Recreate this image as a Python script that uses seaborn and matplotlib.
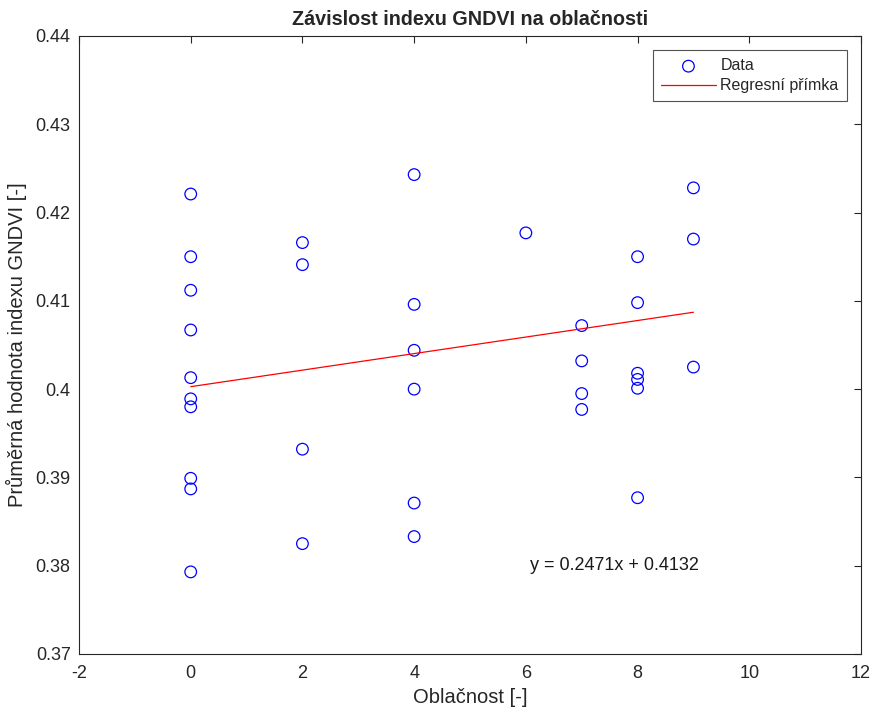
import numpy as np
import pandas as pd
import seaborn as sns
import matplotlib
matplotlib.use('Agg')
import matplotlib.pyplot as plt

# hodnoty
oblacnost = [0, 0, 0, 0, 0, 0, 0, 0, 0, 0,
             2, 2, 2, 2,
             4, 4, 4, 4, 4, 4,
             6,
             7, 7, 7, 7,
             8, 8, 8, 8, 8, 8,
             9, 9, 9]
gndvi = [0.4221, 0.4150, 0.4112, 0.4067, 0.4013, 0.3989, 0.3980, 0.3899, 0.3887, 0.3793,
         0.4166, 0.4141, 0.3932, 0.3825,
         0.4243, 0.4096, 0.4044, 0.4000, 0.3871, 0.3833,
         0.4177,
         0.4072, 0.4032, 0.3995, 0.3977,
         0.4150, 0.4098, 0.4018, 0.4011, 0.4001, 0.3877,
         0.4228, 0.4170, 0.4025]

# regresni primka (koncove body)
fit_x = [0, 9]
fit_y = [0.40028, 0.40871]

rovnice = 'y = 0.2471x + 0.4132'

df = pd.DataFrame({'x': oblacnost, 'y': gndvi})
fit = pd.DataFrame({'x': fit_x, 'y': fit_y})

sns.set_style('white')
plt.rcParams['font.family'] = ['Liberation Sans', 'DejaVu Sans']
plt.rcParams['axes.unicode_minus'] = False

fig = plt.figure(figsize=(8.71, 7.08), dpi=100)
ax = fig.add_axes([79/871, 54/708, 782/871, 618/708])

sns.scatterplot(data=df, x='x', y='y', ax=ax, marker='o', s=70,
                facecolors='none', edgecolor='#0000ff', linewidth=0.9, label='Data')
sns.lineplot(data=fit, x='x', y='y', ax=ax, color='#ff0000', linewidth=0.9,
             label='Regresní přímka')

ax.text(6.08, 0.38, rovnice, fontsize=13, va='center', ha='left', color='#1a1a1a')

ax.set_xlim(-2, 12)
ax.set_ylim(0.37, 0.44)
ax.set_xticks(np.arange(-2, 13, 2))
ax.set_yticks(np.arange(0.37, 0.4401, 0.01))
ax.set_yticklabels(['0.37', '0.38', '0.39', '0.4', '0.41', '0.42', '0.43', '0.44'])
ax.tick_params(direction='in', length=5, width=0.8, top=True, right=True,
               labelsize=13, colors='#262626', pad=6)
ax.tick_params(axis='x', pad=8)
for s in ax.spines.values():
    s.set_color('#262626')
    s.set_linewidth(0.8)

ax.set_title('Závislost indexu GNDVI na oblačnosti', fontsize=14.2,
             fontweight='bold', pad=8)
ax.set_xlabel('Oblačnost [-]', fontsize=14.5, color='#262626', labelpad=4)
ax.set_ylabel('Průměrná hodnota indexu GNDVI [-]', fontsize=14.5, color='#262626',
              labelpad=6)

leg = ax.legend(loc='upper right', fontsize=11.5, frameon=True, fancybox=False,
                handlelength=3.4, borderaxespad=0.9, borderpad=0.5, labelspacing=0.3,
                handletextpad=0.3)
leg.get_frame().set_edgecolor('#262626')
leg.get_frame().set_linewidth(0.8)

fig.savefig('out.png', dpi=100)
